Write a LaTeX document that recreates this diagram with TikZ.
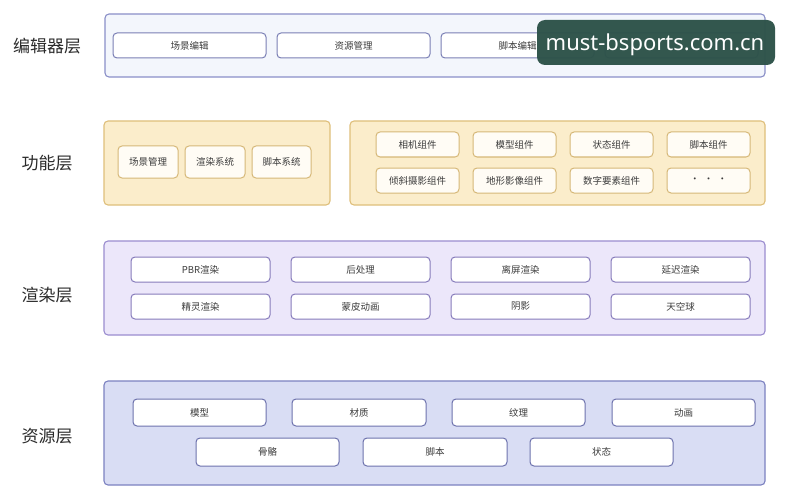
\documentclass[tikz,border=0pt]{standalone}
\usepackage{fontspec}
\setmainfont{Noto Sans CJK SC}
\newfontfamily\wmfont{Noto Sans}
\definecolor{edfill}{HTML}{F3F6FC}
\definecolor{eddraw}{HTML}{8A8FC8}
\definecolor{edbox}{HTML}{7A7FB5}
\definecolor{fnfill}{HTML}{FBEDCB}
\definecolor{fndraw}{HTML}{DFBF7B}
\definecolor{fnbox}{HTML}{D6B878}
\definecolor{fnin}{HTML}{FFFCF5}
\definecolor{rdfill}{HTML}{ECE7FA}
\definecolor{rddraw}{HTML}{9B8DCF}
\definecolor{rdbox}{HTML}{867BBB}
\definecolor{rsfill}{HTML}{D9DDF4}
\definecolor{rsdraw}{HTML}{7C82C1}
\definecolor{rsbox}{HTML}{6D72AD}
\definecolor{wm}{HTML}{2D5249}
\definecolor{labc}{HTML}{2B2B2B}
\definecolor{itc}{HTML}{3C3C3C}
\newcommand\bx[7]{%
\pgfmathsetmacro\bxcx{(#3+#5)/2}\pgfmathsetmacro\bxcy{(#4+#6)/2}%
\pgfmathsetmacro\bxw{#5-#3}\pgfmathsetmacro\bxh{#6-#4}%
\node[#1, minimum width=\bxw pt, minimum height=\bxh pt] (#2) at (\bxcx,\bxcy) {#7};}
\begin{document}
\begin{tikzpicture}[x=1pt,y=-1pt,
  layer/.style={rectangle, rounded corners=4pt, line width=1.1pt, inner sep=0pt},
  item/.style={rectangle, rounded corners=4pt, line width=1pt, inner sep=0pt, fill=white, text=itc, font=\fontsize{9.5}{11}\selectfont},
  lab/.style={text=labc, font=\fontsize{17}{20}\selectfont, inner sep=0pt},
  edl/.style={layer, fill=edfill, draw=eddraw},
  edi/.style={item, draw=edbox},
  fnl/.style={layer, fill=fnfill, draw=fndraw},
  fni/.style={item, draw=fnbox, fill=fnin},
  rdl/.style={layer, fill=rdfill, draw=rddraw},
  rdi/.style={item, draw=rdbox},
  rsl/.style={layer, fill=rsfill, draw=rsdraw},
  rsi/.style={item, draw=rsbox},
  wmbox/.style={rectangle, rounded corners=8pt, fill=wm, fill opacity=0.97, inner sep=0pt}]
\useasboundingbox[fill=white] (0,0) rectangle (795,500);
% editor layer
\bx{edl}{ed}{105}{14}{765}{77}{}
\bx{edi}{e1}{113}{33}{266}{58}{场景编辑}
\bx{edi}{e2}{277}{33}{430}{58}{资源管理}
\bx{edi}{e3}{441}{33}{594}{58}{脚本编辑}
\bx{edi}{e4}{605}{33}{758}{58}{}
\node[lab] (l1) at (47,46) {编辑器层};
% function layer
\bx{fnl}{fa}{104}{121}{330}{205}{}
\bx{fni}{f1}{118}{146}{178}{178}{场景管理}
\bx{fni}{f2}{185}{146}{245}{178}{渲染系统}
\bx{fni}{f3}{252}{146}{311}{178}{脚本系统}
\bx{fnl}{fb}{350}{121}{765}{205}{}
\bx{fni}{g1}{376}{132}{459}{157}{相机组件}
\bx{fni}{g2}{473}{132}{556}{157}{模型组件}
\bx{fni}{g3}{570}{132}{653}{157}{状态组件}
\bx{fni}{g4}{667}{132}{750}{157}{脚本组件}
\bx{fni}{g5}{376}{168}{459}{193}{倾斜摄影组件}
\bx{fni}{g6}{473}{168}{556}{193}{地形影像组件}
\bx{fni}{g7}{570}{168}{653}{193}{数字要素组件}
\bx{fni}{g8}{667}{168}{750}{193}{·\ \ ·\ \ ·}
\node[lab] (l2) at (47,163) {功能层};
% render layer
\bx{rdl}{rd}{104}{241}{765}{335}{}
\bx{rdi}{r1}{131}{257}{270}{282}{PBR渲染}
\bx{rdi}{r2}{291}{257}{430}{282}{后处理}
\bx{rdi}{r3}{451}{257}{590}{282}{离屏渲染}
\bx{rdi}{r4}{611}{257}{750}{282}{延迟渲染}
\bx{rdi}{r5}{131}{294}{270}{319}{精灵渲染}
\bx{rdi}{r6}{291}{294}{430}{319}{蒙皮动画}
\bx{rdi}{r7}{451}{294}{590}{319}{阴影}
\bx{rdi}{r8}{611}{294}{750}{319}{天空球}
\node[lab] (l3) at (47,295) {渲染层};
% resource layer
\bx{rsl}{rs}{104}{381}{765}{485}{}
\bx{rsi}{s1}{133}{399}{266}{426}{模型}
\bx{rsi}{s2}{292}{399}{426}{426}{材质}
\bx{rsi}{s3}{452}{399}{585}{426}{纹理}
\bx{rsi}{s4}{612}{399}{755}{426}{动画}
\bx{rsi}{s5}{196}{438}{339}{466}{骨骼}
\bx{rsi}{s6}{363}{438}{507}{466}{脚本}
\bx{rsi}{s7}{530}{438}{673}{466}{状态}
\node[lab] (l4) at (47,436) {资源层};
% watermark
\bx{wmbox}{wmk}{537}{20}{775}{65}{}
\node[text=white, inner sep=0pt, font=\wmfont\fontsize{22}{24}\selectfont] (wmt) at (655,45) {must-bsports.com.cn};
\end{tikzpicture}
\end{document}
